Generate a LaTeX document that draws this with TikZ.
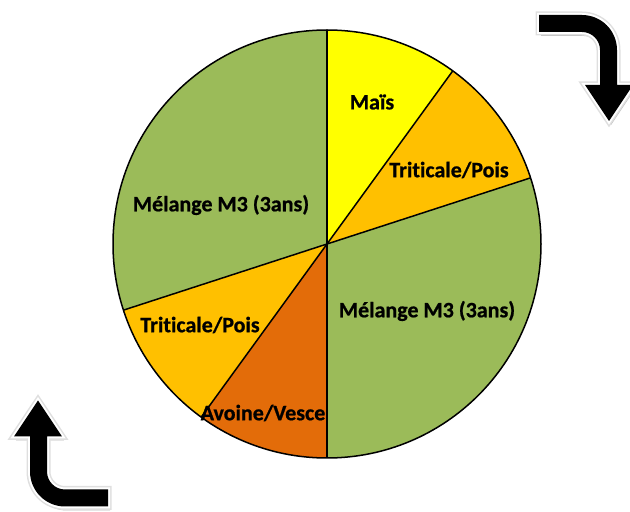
\documentclass[tikz,border=0pt]{standalone}
\usepackage{fontspec}
\setmainfont{Carlito}[Ligatures={NoCommon}, BoldFeatures={FakeBold=0.8}]
\definecolor{mais}{HTML}{FFFF00}
\definecolor{triti}{HTML}{FFC000}
\definecolor{melange}{HTML}{9BBB59}
\definecolor{avoine}{HTML}{E36C09}
\tikzset{
  slice/.style={draw=black, line width=1.5pt, line join=round},
  lab/.style={font=\fontsize{22}{26}\selectfont\bfseries, inner sep=0pt, text=black},
}
\newcommand{\arrowshape}{(-43,35) -- (0,35) arc[start angle=90, end angle=0, radius=35] -- (35,-35) -- (51,-35) -- (27,-71) -- (3,-35) -- (18,-35) -- (18,0) arc[start angle=0, end angle=90, radius=18] -- (-43,18) -- cycle}
\begin{document}
\begin{tikzpicture}[x=1pt,y=1pt]
\useasboundingbox (0,0) rectangle (630,512);
\coordinate (c) at (327,268);
\def\R{214}
\fill[mais] (c) -- ++(54:\R) arc[start angle=54, end angle=90, radius=\R] -- cycle;
\fill[triti] (c) -- ++(18:\R) arc[start angle=18, end angle=54, radius=\R] -- cycle;
\fill[melange] (c) -- ++(-90:\R) arc[start angle=-90, end angle=18, radius=\R] -- cycle;
\fill[avoine] (c) -- ++(-126:\R) arc[start angle=-126, end angle=-90, radius=\R] -- cycle;
\fill[triti] (c) -- ++(-162:\R) arc[start angle=-162, end angle=-126, radius=\R] -- cycle;
\fill[melange] (c) -- ++(90:\R) arc[start angle=90, end angle=198, radius=\R] -- cycle;
\draw[slice] (c) circle[radius=\R];
\foreach \a in {90,54,18,-90,-126,-162}{\draw[slice] (c) -- ++(\a:\R);}
\node[lab] (l1) at (372,410) {Maïs};
\node[lab] (l2) at (449,342) {Triticale/Pois};
\node[lab] (l3) at (427,201) {Mélange M3 (3ans)};
\node[lab] (l4) at (221,307) {Mélange M3 (3ans)};
\node[lab] (l5) at (200,187) {Triticale/Pois};
\node[lab] (l6) at (263,99) {Avoine/Vesce};
% top-right arrow
\begin{scope}[shift={(582,462)}]
  \fill[gray!55, shift={(2,-4)}] \arrowshape;
  \draw[gray!25, line width=7pt, line join=miter] \arrowshape;
  \draw[white, line width=4pt, line join=miter] \arrowshape;
  \fill[black] \arrowshape;
\end{scope}
% bottom-left arrow
\begin{scope}[shift={(65,40.5)}]
  \fill[gray!55, shift={(2,-4)}, rotate=180] \arrowshape;
  \draw[gray!25, line width=7pt, line join=miter, rotate=180] \arrowshape;
  \draw[white, line width=4pt, line join=miter, rotate=180] \arrowshape;
  \fill[black, rotate=180] \arrowshape;
\end{scope}
\end{tikzpicture}
\end{document}
